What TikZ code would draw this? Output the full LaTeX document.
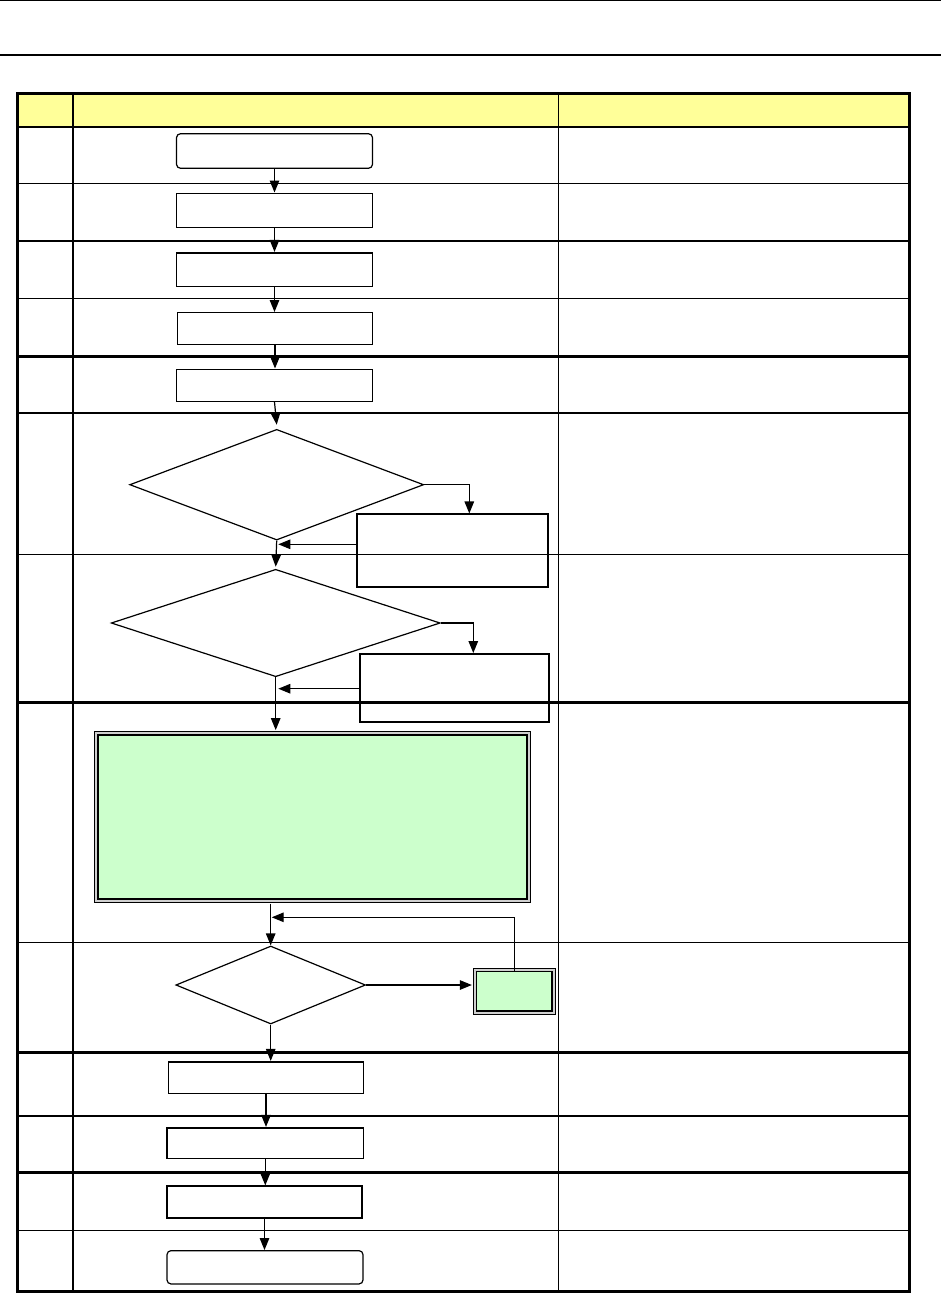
\documentclass[tikz,border=0pt]{standalone}
\usetikzlibrary{shapes.geometric,arrows.meta}
\definecolor{hdr}{HTML}{FFFF99}
\definecolor{pgreen}{HTML}{CCFFCC}
\definecolor{framegray}{HTML}{B0B0B0}
\begin{document}
\begin{tikzpicture}[x=1pt,y=-1pt,
  box/.style={draw=black,line width=1.6pt,rectangle,inner sep=0pt,minimum width=196pt},
  term/.style={box,rounded corners=4pt,line width=1.2pt},
  side/.style={draw=black,line width=1.8pt,rectangle,inner sep=0pt},
  dec/.style={draw=black,line width=1.2pt,diamond,inner sep=0pt},
  gframe/.style={rectangle,inner sep=0pt,fill=pgreen,draw=black,line width=1.6pt,
     preaction={draw=black,line width=8pt},
     preaction={draw=framegray!60,line width=6.2pt}},
  arr/.style={-{Triangle[length=12pt,width=9.5pt]},line width=1.2pt},
  rowthin/.style={line width=1.4pt},
  rowthick/.style={line width=2.6pt}]
\useasboundingbox (0,0) rectangle (941,1293);
\fill[white] (0,0) rectangle (941,1293);
% page lines
\draw[line width=1pt] (0,0.7) -- (941,0.7);
\draw[line width=2.2pt] (0,55) -- (941,55);
% table
\fill[hdr] (17,93) rectangle (909,126.5);
\draw[line width=2pt] (17,126.5) -- (909,126.5);
\foreach \yy in {183.7,241,298.3,413,554.3,942.3,1116,1230.7}
  \draw[rowthin] (17,\yy) -- (909,\yy);
\foreach \yy in {356.7,702.7,1052.7,1172.7}
  \draw[rowthick] (17,\yy) -- (909,\yy);
\draw[line width=2pt] (73,93) -- (73,1292);
\draw[line width=0.9pt] (558.3,93) -- (558.3,1292);
\draw[line width=3pt] (17,93) rectangle (909,1291.5);
% nodes
\node[term,minimum height=34.6pt] (start) at (274.5,151) {};
\node[box,minimum height=34pt] (b2) at (274.5,210.3) {};
\node[box,minimum height=33.6pt] (b3) at (274.5,269.5) {};
\node[box,minimum width=195pt,minimum height=31.6pt,line width=1.4pt] (b4) at (275,328.5) {};
\node[box,minimum height=32pt] (b5) at (274.5,385.3) {};
\node[dec,minimum width=294pt,minimum height=110.7pt] (d1) at (276.7,484.7) {};
\node[side,minimum width=191.6pt,minimum height=72.7pt] (sb1) at (452.5,550.7) {};
\node[dec,minimum width=329pt,minimum height=107.4pt] (d2) at (275.7,623) {};
\node[side,minimum width=189.3pt,minimum height=67.7pt] (sb2) at (454.7,687.8) {};
\node[gframe,minimum width=429pt,minimum height=164pt] (big) at (312.7,816.9) {};
\node[dec,minimum width=189.7pt,minimum height=78pt] (d3) at (270.7,985) {};
\node[gframe,minimum width=75.3pt,minimum height=39.3pt] (sg) at (514.3,991.3) {};
\node[box,minimum width=195pt,minimum height=31.6pt] (b10) at (266,1077.5) {};
\node[box,minimum width=196.5pt,minimum height=30.6pt] (b11) at (265.3,1143) {};
\node[box,minimum width=195pt,minimum height=32pt,line width=1.2pt] (b12) at (264.5,1202) {};
\node[term,minimum height=33.3pt] (end) at (265,1267.3) {};
% helper coordinates
\coordinate (k1) at (469.3,500);
\coordinate (k2) at (473.3,640);
\coordinate (j1) at (278.3,544.3);
\coordinate (j2) at (278.3,688.7);
\coordinate (lp) at (271.7,917.3);
% connectors
\draw[arr] (start.south) -- (b2.north);
\draw[arr] (b2.south) -- (b3.north);
\draw[arr] (b3.south) -- (b3.south |- b4.north);
\draw[arr] (b4.south) -- (b4.south |- b5.north);
\draw[arr] (b5.south) -- ([yshift=4pt]d1.north);
\draw[arr] (d1.east) -| (sb1.north -| k1);
\draw[arr] (sb1.west |- j1) -- (j1);
\draw[arr] (d1.south) -- ([yshift=2pt]d2.north);
\draw[arr] (d2.east) -| (sb2.north -| k2);
\draw[arr] (sb2.west |- j2) -- (j2);
\draw[arr,shorten >=4pt] (d2.south) -- (d2.south |- big.north);
\draw[arr] ([yshift=-4pt]big.south -| d3.north) -- (d3.north);
\draw[arr] (sg.north) |- (lp);
\draw[arr,shorten >=4pt] (d3.east) -- (sg.west |- d3.east);
\draw[arr] (d3.south) -- (d3.south |- b10.north);
\draw[arr] (b10.south) -- (b10.south |- b11.north);
\draw[arr] (b11.south) -- (b11.south |- b12.north);
\draw[arr] (b12.south) -- (b12.south |- end.north);
\end{tikzpicture}
\end{document}
